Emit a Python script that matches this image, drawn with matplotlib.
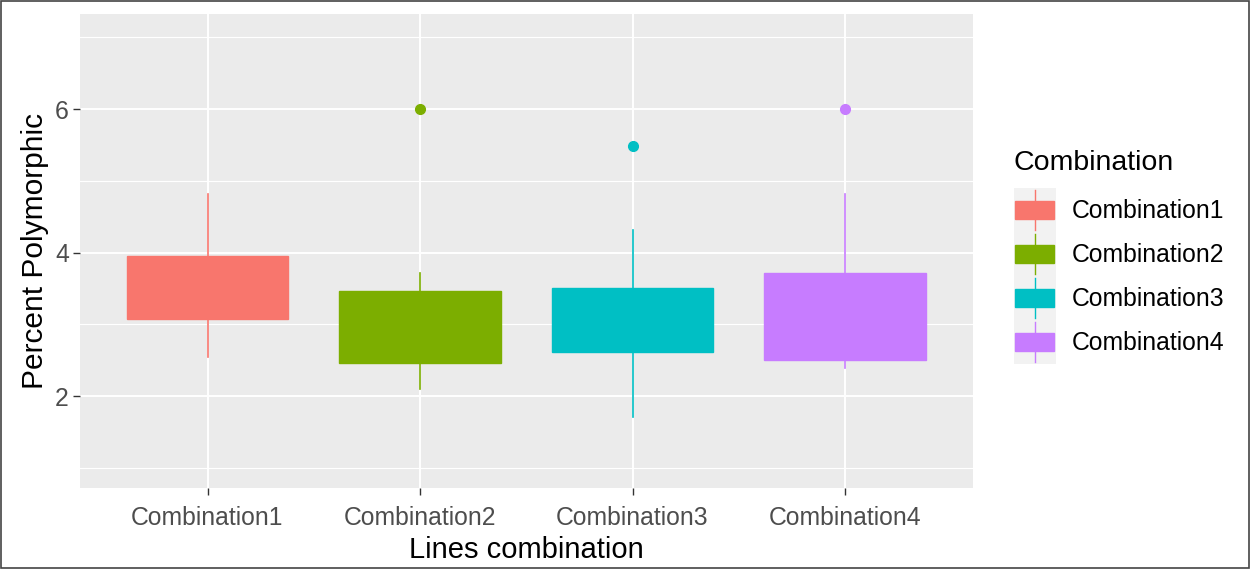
"""Boxplot of percent polymorphic loci by line combination (ggplot look)."""

import matplotlib
import matplotlib.pyplot as plt
from matplotlib.legend_handler import HandlerBase
from matplotlib.lines import Line2D
from matplotlib.patches import Rectangle

matplotlib.use("Agg")

combinations = ["Combination1", "Combination2", "Combination3", "Combination4"]
colors = ["#F8766D", "#7CAE00", "#00BFC4", "#C77CFF"]
q1 = [3.08, 2.47, 2.62, 2.51]
q3 = [3.95, 3.46, 3.51, 3.72]
medians = [3.5, 2.9, 3.1, 3.1]
whisker_low = [2.55, 2.10, 1.71, 2.40]
whisker_high = [4.81, 3.72, 4.32, 4.81]
outliers = [[], [6.0], [5.48], [6.0]]

plt.rcParams["font.family"] = ["Liberation Sans", "DejaVu Sans"]


class BoxKeyHandler(HandlerBase):
    """Draw a ggplot-style boxplot key: grey square, whisker and box."""

    def __init__(self, color):
        super().__init__()
        self.color = color

    def create_artists(self, legend, orig_handle, xdescent, ydescent,
                       width, height, fontsize, trans):
        x0, y0 = -xdescent, -ydescent
        back = Rectangle((x0, y0), width, height, facecolor="#F2F2F2",
                         edgecolor="none", transform=trans)
        whisker = Line2D([x0 + width / 2] * 2,
                         [y0 + 0.05 * height, y0 + 0.95 * height],
                         color=self.color, lw=1.0, transform=trans)
        box_h = 0.42 * height
        box = Rectangle((x0 + 0.04 * width, y0 + (height - box_h) / 2),
                        0.9 * width, box_h, facecolor=self.color,
                        edgecolor=self.color, transform=trans)
        return [back, whisker, box]


figure = plt.figure(figsize=(12.5, 5.69), dpi=100)
axis = figure.add_axes([0.064, 0.142, 0.714, 0.833])
axis.set_facecolor("#EBEBEB")

stats = []
for i, name in enumerate(combinations):
    stats.append({"label": name, "q1": q1[i], "q3": q3[i], "med": medians[i],
                  "whislo": whisker_low[i], "whishi": whisker_high[i],
                  "fliers": outliers[i]})

parts = axis.bxp(stats, positions=[1, 2, 3, 4], widths=0.76,
                 patch_artist=True, showcaps=False, zorder=3)
for i, color in enumerate(colors):
    parts["boxes"][i].set(facecolor=color, edgecolor=color, linewidth=1.0)
    parts["medians"][i].set(color=color, linewidth=1.0)
    for whisker in parts["whiskers"][2 * i:2 * i + 2]:
        whisker.set(color=color, linewidth=1.2)
    parts["fliers"][i].set(marker="o", markerfacecolor=color,
                           markeredgecolor=color, markersize=7)

axis.set_xlim(0.4, 4.6)
axis.set_ylim(0.72, 7.32)
axis.set_xticks([1, 2, 3, 4])
axis.set_xticklabels(combinations)
axis.set_yticks([2, 4, 6])
axis.set_yticks([1, 3, 5, 7], minor=True)
axis.grid(True, which="major", color="white", linewidth=1.4, zorder=0)
axis.grid(True, which="minor", color="white", linewidth=0.8, zorder=0)
axis.set_axisbelow(True)
for spine in axis.spines.values():
    spine.set_visible(False)
axis.tick_params(axis="both", which="major", length=5, width=1.0,
                 color="#333333", labelcolor="#4D4D4D", labelsize=17.8)
axis.tick_params(axis="x", which="major", pad=8)
axis.tick_params(axis="y", which="major", pad=3)
axis.tick_params(axis="both", which="minor", length=0)
axis.set_xlabel("Lines combination", fontsize=21, color="black", labelpad=4)
axis.set_ylabel("Percent Polymorphic", fontsize=21.5, color="black",
                labelpad=4)

handles = [Rectangle((0, 0), 1, 1) for _ in combinations]
legend = axis.legend(handles, combinations, title="Combination",
                     loc="upper left", bbox_to_anchor=(1.035, 0.735),
                     frameon=False, fontsize=17.8, title_fontsize=20.5,
                     handlelength=1.72, handleheight=2.36, labelspacing=0.0,
                     handletextpad=0.65, borderaxespad=0,
                     handler_map={h: BoxKeyHandler(c)
                                  for h, c in zip(handles, colors)})
legend._legend_box.align = "left"
legend._legend_box.sep = 9

figure.patches.append(Rectangle((0.0005, 0.001), 0.999, 0.998,
                                transform=figure.transFigure, fill=False,
                                edgecolor="#444444", linewidth=1.2))

figure.savefig("out.png", dpi=100)
